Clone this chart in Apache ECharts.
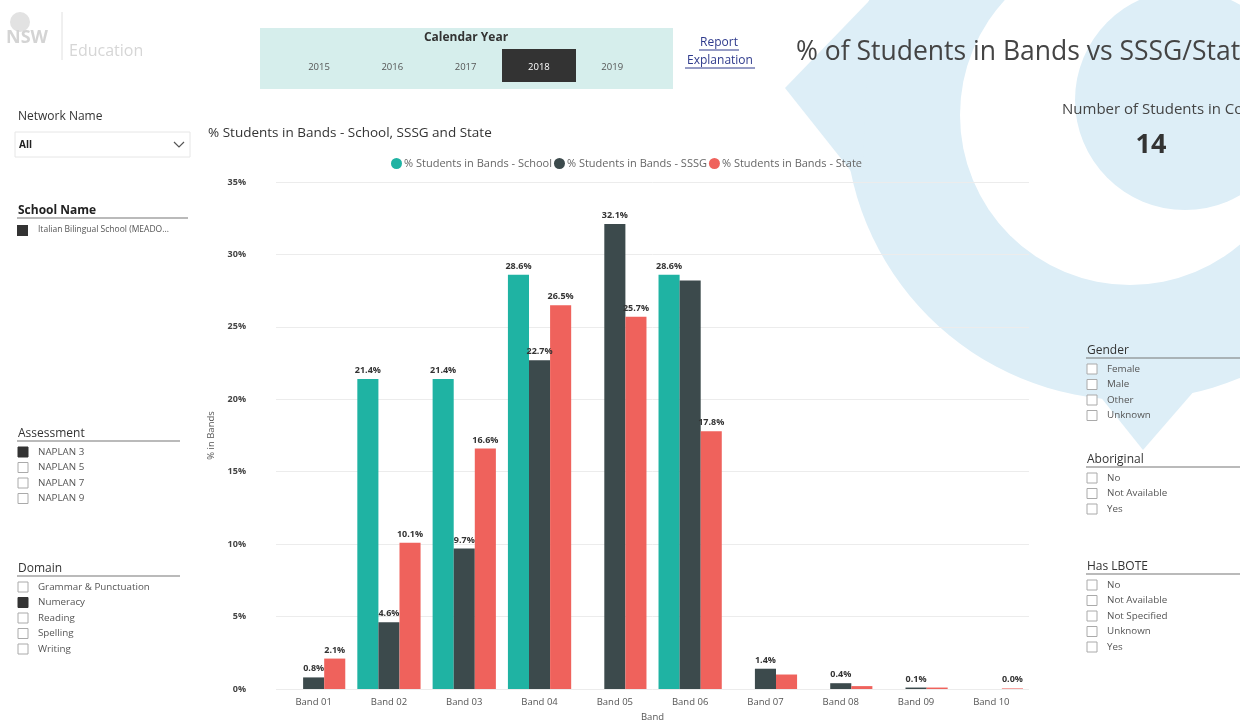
<!DOCTYPE html>
<html lang="en">
<head>
<meta charset="UTF-8" />
<title>% of Students in Bands vs SSSG/State</title>
<script src="https://cdn.jsdelivr.net/npm/echarts@6/dist/echarts.min.js"></script>
<style>
  html, body { margin: 0; padding: 0; background: #fff; }
  #main { width: 1240px; height: 720px; }
</style>
</head>
<body>
<div id="main"></div>
<script>
// Data
const bands = ["Band 01", "Band 02", "Band 03", "Band 04", "Band 05", "Band 06", "Band 07", "Band 08", "Band 09", "Band 10"];
const schoolPct = [null, 21.4, 21.4, 28.6, null, 28.6, null, null, null, null];
const sssgPct = [0.8, 4.6, 9.7, 22.7, 32.1, 28.2, 1.4, 0.4, 0.1, null];
const statePct = [2.1, 10.1, 16.6, 26.5, 25.7, 17.8, 1.0, 0.2, 0.1, 0.04];
const yTicks = [0, 5, 10, 15, 20, 25, 30, 35];
const years = ["2015", "2016", "2017", "2018", "2019"];

// labels Power BI dropped because they collided
const hiddenSssg = [5];
const hiddenState = [6, 7, 8];

const FONT = "Open Sans";
const colors = { school: "#1fb3a3", sssg: "#3c4a4c", state: "#ef625c" };
const wash = "#ddeef7";

function withLabels(values, hidden) {
  return values.map((v, i) => ({ value: v, label: { show: v !== null && !hidden.includes(i) } }));
}

function txt(x, y, text, size, color, extra) {
  return {
    type: "text", x: x, y: y,
    style: Object.assign({ text: text, fontSize: size, fill: color, fontFamily: FONT }, extra || {})
  };
}

// slicer with check boxes
function slicer(x, y, title, items, selected, lineEnd) {
  const els = [];
  els.push(txt(x, y, title, 12, "#333", { textVerticalAlign: "middle" }));
  els.push({ type: "line", shape: { x1: x - 1, y1: y + 7, x2: lineEnd, y2: y + 7 }, style: { stroke: "#777", lineWidth: 1.2 } });
  items.forEach((it, i) => {
    const yy = y + 18 + i * 15.5;
    els.push({ type: "rect", shape: { x: x, y: yy - 5, width: 10, height: 10 },
      style: { fill: i === selected ? "#333" : "#fff", stroke: i === selected ? "#333" : "#aaa", lineWidth: 1 } });
    els.push(txt(x + 20, yy, it, 9.8, "#555", { textVerticalAlign: "middle" }));
  });
  return els;
}

const chart = echarts.init(document.getElementById("main"));

const graphics = [
  // watermark shape
  { type: "circle", z: -10, shape: { cx: 1130, cy: 115, r: 285 }, style: { fill: wash } },
  { type: "polygon", z: -10, shape: { points: [[785, 88], [870, 0], [862, 185]] }, style: { fill: wash } },
  { type: "polygon", z: -10, shape: { points: [[1143, 450], [1095, 390], [1195, 390]] }, style: { fill: wash } },
  { type: "circle", z: -9, shape: { cx: 1130, cy: 115, r: 170 }, style: { fill: "#fff" } },
  { type: "circle", z: -8, shape: { cx: 1185, cy: 100, r: 110 }, style: { fill: wash } },

  // logo
  { type: "circle", shape: { cx: 20, cy: 22, r: 10 }, style: { fill: "#e2e2e2" } },
  txt(6, 38, "NSW", 18, "#d4d4d4", { textVerticalAlign: "middle", fontWeight: "bold" }),
  { type: "line", shape: { x1: 62, y1: 12, x2: 62, y2: 60 }, style: { stroke: "#e0e0e0", lineWidth: 1 } },
  txt(69, 51, "Education", 16, "#d6d6d6", { textVerticalAlign: "middle" }),

  // Calendar year slicer
  { type: "rect", shape: { x: 260, y: 28, width: 413, height: 61 }, style: { fill: "#d6eeec" } },
  txt(466, 38, "Calendar Year", 12, "#333", { textAlign: "center", textVerticalAlign: "middle", fontWeight: "bold" }),
  { type: "rect", shape: { x: 502, y: 49, width: 74, height: 33 }, style: { fill: "#333" } },
  ...years.map((yr, i) => txt(319 + i * 73.3, 67, yr, 9.5, yr === "2018" ? "#fff" : "#555",
    { textAlign: "center", textVerticalAlign: "middle" })),

  // report link
  txt(719, 43, "Report", 12, "#2e3a8c", { textAlign: "center", textVerticalAlign: "middle" }),
  { type: "line", shape: { x1: 699, y1: 50, x2: 739, y2: 50 }, style: { stroke: "#2e3a8c", lineWidth: 1 } },
  txt(720, 61, "Explanation", 12, "#2e3a8c", { textAlign: "center", textVerticalAlign: "middle" }),
  { type: "line", shape: { x1: 685, y1: 68, x2: 755, y2: 68 }, style: { stroke: "#2e3a8c", lineWidth: 1 } },

  // headline
  txt(796, 52, "% of Students in Bands vs SSSG/State", 26.5, "#444", { textVerticalAlign: "middle" }),
  txt(1062, 110, "Number of Students in Cohort", 15, "#444", { textVerticalAlign: "middle" }),
  txt(1151, 145, "14", 27, "#333", { textAlign: "center", textVerticalAlign: "middle", fontWeight: "bold" }),

  // network dropdown
  txt(18, 117, "Network Name", 12, "#333", { textVerticalAlign: "middle" }),
  { type: "rect", shape: { x: 15, y: 132, width: 175, height: 25 }, style: { fill: "#fff", stroke: "#e6e6e6" } },
  txt(19, 145, "All", 10, "#222", { textVerticalAlign: "middle", fontWeight: "bold" }),
  { type: "polyline", shape: { points: [[174, 142], [179, 147], [184, 142]] }, style: { stroke: "#555", fill: null, lineWidth: 1.2 } },

  // school name slicer
  txt(18, 211, "School Name", 12, "#222", { textVerticalAlign: "middle", fontWeight: "bold" }),
  { type: "line", shape: { x1: 17, y1: 218, x2: 188, y2: 218 }, style: { stroke: "#777", lineWidth: 1.2 } },
  { type: "rect", shape: { x: 17, y: 225, width: 11, height: 11 }, style: { fill: "#333" } },
  txt(38, 230, "Italian Bilingual School (MEADO...", 8.5, "#555", { textVerticalAlign: "middle" }),

  ...slicer(18, 434, "Assessment", ["NAPLAN 3", "NAPLAN 5", "NAPLAN 7", "NAPLAN 9"], 0, 180),
  ...slicer(18, 569, "Domain", ["Grammar & Punctuation", "Numeracy", "Reading", "Spelling", "Writing"], 1, 180),
  ...slicer(1087, 351, "Gender", ["Female", "Male", "Other", "Unknown"], -1, 1240),
  ...slicer(1087, 460, "Aboriginal", ["No", "Not Available", "Yes"], -1, 1240),
  ...slicer(1087, 567, "Has LBOTE", ["No", "Not Available", "Not Specified", "Unknown", "Yes"], -1, 1240)
];

const labelStyle = {
  show: true, position: "top", distance: 4,
  fontSize: 9, fontWeight: "bold", color: "#333", fontFamily: FONT,
  formatter: p => p.value.toFixed(1) + "%"
};

const option = {
  backgroundColor: "#fff",
  animation: false,
  textStyle: { fontFamily: FONT },
  title: {
    text: "% Students in Bands - School, SSSG and State",
    left: 203, top: 121,
    textStyle: { fontSize: 13.5, fontWeight: "normal", color: "#333", fontFamily: FONT }
  },
  legend: {
    left: 386, top: 153,
    icon: "circle", itemWidth: 11, itemHeight: 11, itemGap: 2,
    textStyle: { fontSize: 11, color: "#666", padding: [0, 0, 0, -3] },
    data: ["% Students in Bands - School", "% Students in Bands - SSSG", "% Students in Bands - State"]
  },
  graphic: graphics,
  grid: { left: 276, right: 211, top: 182, bottom: 31, outerBoundsMode: "none" },
  xAxis: {
    type: "category",
    data: bands,
    name: "Band", nameLocation: "middle", nameGap: 19,
    nameTextStyle: { fontSize: 9.5, color: "#555" },
    axisLine: { show: false }, axisTick: { show: false },
    axisLabel: { fontSize: 9.5, color: "#555", margin: 8 }
  },
  yAxis: {
    type: "value",
    min: yTicks[0], max: yTicks[yTicks.length - 1], interval: 5,
    name: "% in Bands", nameLocation: "middle", nameGap: 52,
    nameTextStyle: { fontSize: 9.5, color: "#555" },
    axisLabel: { fontSize: 9, color: "#444", fontWeight: "bold", margin: 30, formatter: "{value}%" },
    splitLine: { lineStyle: { color: "#ececec" } }
  },
  series: [
    { name: "% Students in Bands - School", type: "bar", data: withLabels(schoolPct, []),
      itemStyle: { color: colors.school }, barGap: "0%", barCategoryGap: "16%", label: labelStyle },
    { name: "% Students in Bands - SSSG", type: "bar", data: withLabels(sssgPct, hiddenSssg),
      itemStyle: { color: colors.sssg }, label: labelStyle },
    { name: "% Students in Bands - State", type: "bar", data: withLabels(statePct, hiddenState),
      itemStyle: { color: colors.state }, label: labelStyle }
  ]
};

chart.setOption(option);
</script>
</body>
</html>
